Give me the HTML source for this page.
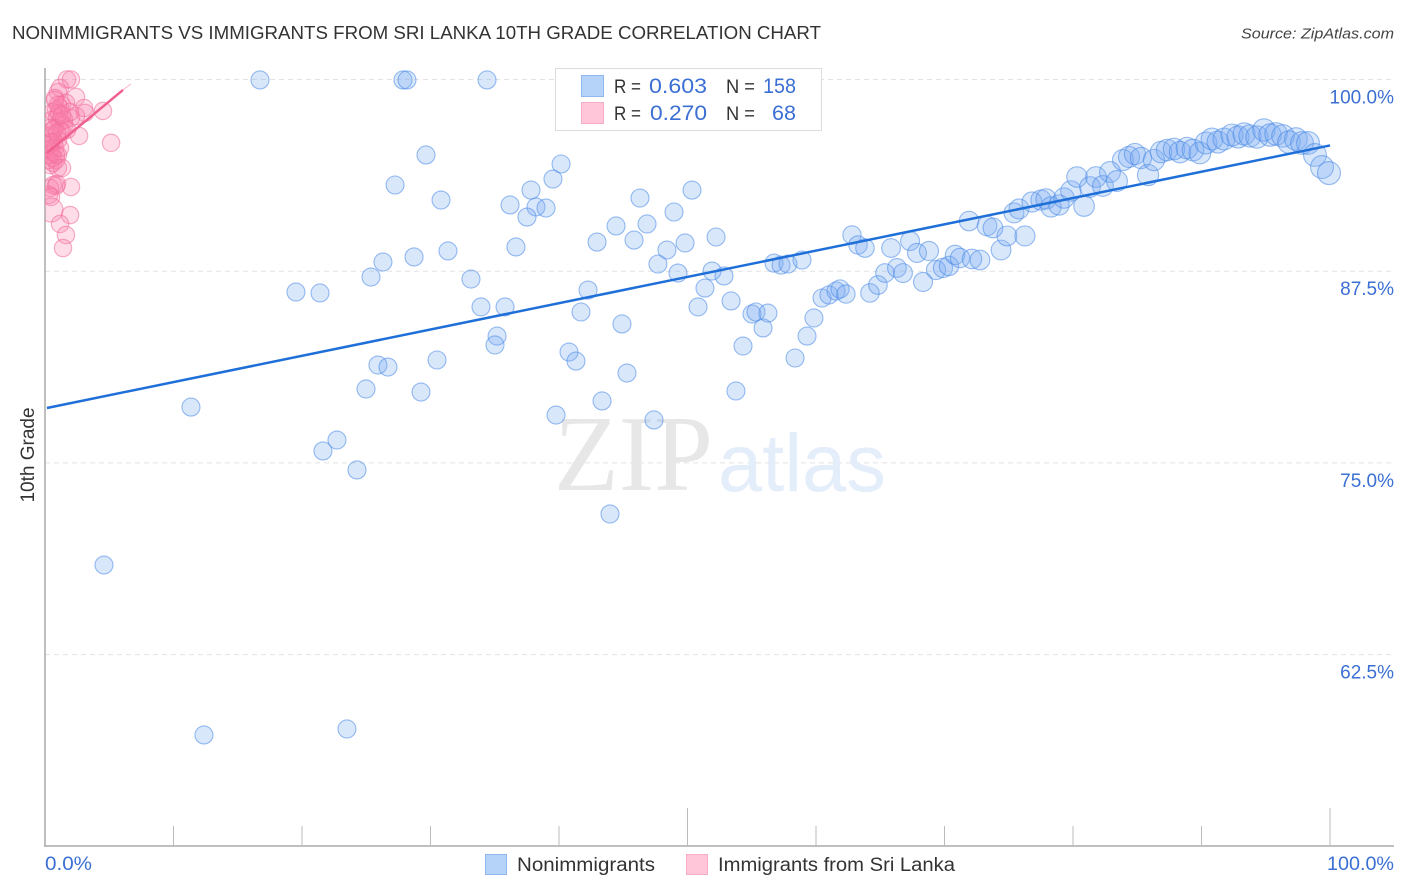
<!DOCTYPE html>
<html>
<head>
<meta charset="utf-8">
<title>Nonimmigrants vs Immigrants from Sri Lanka 10th Grade Correlation Chart</title>
<style>
html,body{margin:0;padding:0;background:#fff;}
svg{display:block;font-family:"Liberation Sans",sans-serif;}
</style>
</head>
<body>
<svg id="chart" width="1406" height="892" viewBox="0 0 1406 892" xmlns="http://www.w3.org/2000/svg">
  <defs><clipPath id="plot-clip"><rect x="45" y="66" width="1349" height="780"/></clipPath></defs>
  <text x="12" y="39" font-size="18.5" fill="#333" textLength="809" lengthAdjust="spacingAndGlyphs">NONIMMIGRANTS VS IMMIGRANTS FROM SRI LANKA 10TH GRADE CORRELATION CHART</text>
  <text x="1394" y="38.500" font-size="15" font-style="italic" fill="#444" text-anchor="end" textLength="153" lengthAdjust="spacingAndGlyphs">Source: ZipAtlas.com</text>

  <g id="grid"></g>
  <g id="axes"></g>

  <g>
    <text x="554" y="490" font-family="'Liberation Serif',serif" font-size="108" fill="#e7e7e7" textLength="159" lengthAdjust="spacingAndGlyphs">ZIP</text>
    <text x="718" y="491" font-size="82" fill="#e4edfa" textLength="168" lengthAdjust="spacingAndGlyphs">atlas</text>
  </g>

  <g id="blue-points" clip-path="url(#plot-clip)"></g>
  <g id="pink-points" clip-path="url(#plot-clip)"></g>
  <g id="trend-lines"></g>

  <text transform="translate(34,455) rotate(-90)" font-size="19" fill="#333" text-anchor="middle">10th Grade</text>
  <g id="y-labels"></g>
  <text x="45" y="870" font-size="19" fill="#3b6fd4" textLength="47" lengthAdjust="spacingAndGlyphs">0.0%</text>
  <text x="1394" y="870" font-size="19" fill="#3b6fd4" text-anchor="end" textLength="67" lengthAdjust="spacingAndGlyphs">100.0%</text>

  <g>
    <rect x="555.500" y="68.500" width="266" height="62" fill="#fff" stroke="#dcdcdc"/>
    <rect x="581.500" y="75.500" width="22" height="21" fill="#b5d2f8" stroke="#8fb8ee"/>
    <rect x="581.500" y="102.500" width="22" height="21" fill="#ffc6da" stroke="#f8adc7"/>
    <text x="614" y="93" font-size="19" fill="#333" textLength="27" lengthAdjust="spacingAndGlyphs">R =</text>
    <text x="649" y="93" font-size="21" fill="#3b6fd4" textLength="58" lengthAdjust="spacingAndGlyphs">0.603</text>
    <text x="726" y="93" font-size="19" fill="#333" textLength="29" lengthAdjust="spacingAndGlyphs">N =</text>
    <text x="763" y="93" font-size="21" fill="#3b6fd4" textLength="33" lengthAdjust="spacingAndGlyphs">158</text>
    <text x="614" y="120" font-size="19" fill="#333" textLength="27" lengthAdjust="spacingAndGlyphs">R =</text>
    <text x="650" y="120" font-size="21" fill="#3b6fd4" textLength="57" lengthAdjust="spacingAndGlyphs">0.270</text>
    <text x="726" y="120" font-size="19" fill="#333" textLength="29" lengthAdjust="spacingAndGlyphs">N =</text>
    <text x="772" y="120" font-size="21" fill="#3b6fd4" textLength="24" lengthAdjust="spacingAndGlyphs">68</text>
  </g>

  <g>
    <rect x="485.500" y="854.500" width="21" height="20" fill="#b5d2f8" stroke="#8fb8ee"/>
    <text x="517" y="871" font-size="19" fill="#333" textLength="138" lengthAdjust="spacingAndGlyphs">Nonimmigrants</text>
    <rect x="686.500" y="854.500" width="21" height="20" fill="#ffc6da" stroke="#f8adc7"/>
    <text x="718" y="871" font-size="19" fill="#333" textLength="237" lengthAdjust="spacingAndGlyphs">Immigrants from Sri Lanka</text>
  </g>
</svg>
<script>
const xTicks = [0,10,20,30,40,50,60,70,80,90,100];
const yTicks = [100,87.5,75,62.5];
const yTickLabels = ["100.0%","87.5%","75.0%","62.5%"];

const blueX = [16.73,27.86,28.17,34.40,29.65,27.24,30.82,40.16,39.53,37.82,36.19,38.21,38.99,37.51,36.65,42.96,44.44,46.30,46.85,45.84,50.35,48.95,49.81,48.40,52.22,47.70,49.26,51.91,52.84,51.36,31.36,28.72,26.30,25.37,33.15,19.53,21.40,33.93,35.80,42.26,41.71,50.82,53.39,44.90,35.18,35.02,30.51,25.91,26.69,40.78,41.32,45.29,54.32,55.88,55.02,55.33,56.26,59.30,58.37,24.98,29.26,43.35,53.77,11.36,39.77,47.39,22.72,21.63,24.28,43.97,4.59,12.37,23.50,
56.73,57.28,57.82,58.91,62.80,63.27,63.81,65.84,67.32,67.86,68.79,60.47,61.01,61.56,61.87,62.33,59.84,64.20,64.82,65.37,66.30,66.77,68.33,69.34,69.88,70.35,70.82,71.21,72.14,72.76,74.40,71.91,73.31,73.77,74.86,76.26,75.41,75.80,76.81,77.51,77.90,78.29,78.91,79.30,79.84,80.86,80.31,81.32,81.79,82.33,82.88,83.42,83.89,84.36,84.82,85.29,85.84,86.30,86.85,87.32,87.86,88.33,88.87,89.34,89.88,90.35,90.82,91.28,91.75,92.37,92.84,93.31,93.77,94.32,94.86,95.33,95.80,96.34,96.81,97.35,97.82,98.29,98.83,99.38,99.92];
const blueY = [99.97,99.97,99.97,99.97,95.08,93.12,92.14,94.49,93.51,92.79,91.82,91.69,91.62,91.03,89.08,89.40,90.45,92.27,90.58,89.53,92.79,91.36,89.34,88.88,89.73,87.97,87.38,87.51,87.19,86.40,88.82,88.43,88.10,87.12,86.99,86.14,86.08,85.17,85.17,86.27,84.84,85.17,85.56,84.06,83.27,82.69,81.71,81.38,81.25,82.23,81.64,80.86,82.62,83.80,84.71,84.84,84.77,83.27,81.84,79.82,79.62,79.04,79.69,78.64,78.12,77.80,76.49,75.78,74.54,71.67,68.34,57.26,57.65,
88.03,87.90,87.97,88.23,89.86,89.21,89.01,89.01,89.47,88.69,88.82,85.75,85.95,86.21,86.34,86.01,84.45,86.08,86.60,87.38,87.71,87.38,86.80,87.58,87.71,87.84,88.56,88.36,88.30,88.23,88.88,90.77,90.45,90.32,89.80,89.80,91.30,91.56,92.01,92.14,92.21,91.69,91.82,92.27,92.73,91.75,93.64,92.99,93.64,93.06,93.97,93.38,94.75,94.95,95.14,94.88,93.77,94.75,95.27,95.40,95.47,95.27,95.53,95.40,95.21,95.86,96.12,95.92,96.12,96.38,96.25,96.45,96.32,96.25,96.71,96.38,96.45,96.32,95.92,96.12,95.86,95.86,95.08,94.29,93.90];

const pinkX = [1.71,2.02,1.17,1.01,2.41,0.78,4.51,5.14,3.04,3.11,2.65,2.41,2.02,1.63,1.32,1.17,0.78,0.86,0.62,0.54,0.93,1.17,1.48,1.17,0.78,0.54,0.39,0.70,1.01,1.32,0.47,0.31,0.54,0.78,0.31,0.39,0.62,0.86,1.01,0.39,0.62,0.86,1.01,1.32,0.62,0.39,0.86,0.93,0.31,0.47,2.02,1.95,1.17,1.63,1.40,0.47,1.48,1.71,1.09,0.39,0.31,0.62,0.93,1.17,0.47,1.01,1.95,1.32];
const pinkY = [100.0,100.0,99.45,99.18,98.86,98.79,97.95,95.87,98.14,97.82,96.32,97.62,97.49,98.47,98.34,98.14,98.66,98.01,97.88,97.36,97.49,97.23,97.03,96.71,96.84,96.38,96.19,95.92,96.05,96.58,95.53,95.08,95.27,95.53,94.75,94.42,94.56,94.75,95.08,95.40,94.88,95.08,94.23,94.23,93.12,92.93,93.06,93.19,92.47,92.34,92.99,91.16,90.58,89.86,89.01,91.49,97.36,96.71,97.82,96.84,95.73,96.71,96.51,95.53,95.92,98.34,97.88,97.69];

const blueTrendX = [0.15,100];
const blueTrendY = [78.58,95.70];
const pinkTrendX = [0.16,6.07];
const pinkTrendY = [95.21,99.32];
const pinkTrendExtX = [6.07,6.69];
const pinkTrendExtY = [99.32,99.71];

const SVGNS = "http://www.w3.org/2000/svg";
const xScale = v => 45 + v * 12.85;
const yScale = v => 79.5 + (100 - v) * 15.336;

function make(parent, tag, attrs) {
  const el = document.createElementNS(SVGNS, tag);
  for (const k in attrs) el.setAttribute(k, attrs[k]);
  document.getElementById(parent).appendChild(el);
  return el;
}

yTicks.forEach((t, i) => {
  const line = make("grid", "line", {x1: 45, x2: 1394, y1: yScale(t), y2: yScale(t), stroke: "#e2e2e2", "stroke-width": 1, "stroke-dasharray": "5 4"});
  
  
  const label = make("y-labels", "text", {x: 1394, y: yScale(t) + 24, "font-size": 19, fill: "#3b6fd4", "text-anchor": "end"});
  label.textContent = yTickLabels[i];
  
  
});

const yAxis = make("axes", "line", {x1: 45, x2: 45, y1: 68, y2: 846, stroke: "#aaa", "stroke-width": 1.5});


const xAxis = make("axes", "line", {x1: 44, x2: 1394, y1: 846, y2: 846, stroke: "#aaa", "stroke-width": 1.5});


xTicks.forEach(t => {
  if (t === 0) return;
  const top = (t === 50 || t === 100) ? 808 : 826;
  const tick = make("axes", "line", {x1: xScale(t), x2: xScale(t), y1: top, y2: 846, stroke: "#bbb", "stroke-width": 1});
  
  
});

blueX.forEach((v, i) => {
  const r = v < 60 ? 9 : 9 + (v - 60) / 40 * 2.5;
  const c = make("blue-points", "circle", {cx: xScale(v), cy: yScale(blueY[i]), r: r, fill: "rgba(120,170,240,0.28)", stroke: "rgba(70,135,230,0.55)", "stroke-width": 1.1});
  
  
});

pinkX.forEach((v, i) => {
  const r = (v < 0.5 && pinkY[i] < 92) ? 12 : 8.7;
  const c = make("pink-points", "circle", {cx: xScale(v), cy: yScale(pinkY[i]), r: r, fill: "rgba(250,130,175,0.27)", stroke: "rgba(240,110,155,0.55)", "stroke-width": 1.2});
  
  
});

const blueLine = make("trend-lines", "line", {x1: xScale(blueTrendX[0]), y1: yScale(blueTrendY[0]), x2: xScale(blueTrendX[1]), y2: yScale(blueTrendY[1]), stroke: "#1f6fd9", "stroke-width": 2.5});


const pinkLine = make("trend-lines", "line", {x1: xScale(pinkTrendX[0]), y1: yScale(pinkTrendY[0]), x2: xScale(pinkTrendX[1]), y2: yScale(pinkTrendY[1]), stroke: "#f0608f", "stroke-width": 2.5});


const pinkExt = make("trend-lines", "line", {x1: xScale(pinkTrendExtX[0]), y1: yScale(pinkTrendExtY[0]), x2: xScale(pinkTrendExtX[1]), y2: yScale(pinkTrendExtY[1]), stroke: "#f6b6cc", "stroke-width": 1});


</script>
</body>
</html>
